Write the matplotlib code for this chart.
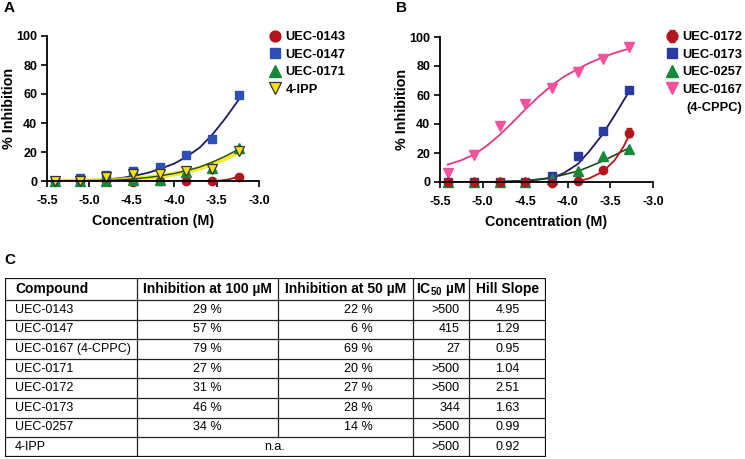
import numpy as np
import matplotlib
matplotlib.use('Agg')
import matplotlib.pyplot as plt

plt.rcParams['font.family'] = ['Liberation Sans', 'DejaVu Sans']
plt.rcParams['mathtext.fontset'] = 'custom'
plt.rcParams['mathtext.bf'] = 'Liberation Sans:bold'
plt.rcParams['mathtext.rm'] = 'Liberation Sans'

# ---- panel A data (log concentration, % inhibition) ----
xA = [-5.41, -5.11, -4.80, -4.49, -4.17, -3.86, -3.56, -3.24]
a_0143 = [0, 0, 0, -0.5, 0, 0, 0, 3]
a_0147 = [0, 1.8, 4, 7, 10, 18, 29, 59]
a_0171 = [0, 0, 0, 1, 1, 6, 9, 23]
a_4ipp = [0, 0, 3, 5, 5, 7, 8.5, 21]

# fitted curves
xA_fit = [-5.41, -5.1, -4.8, -4.6, -4.45, -4.3, -4.17, -4.0, -3.86, -3.7, -3.55, -3.4, -3.24]
a_0147_fit = [0, 0.3, 1, 2.3, 3.8, 5.8, 8.2, 12, 16.5, 23, 32, 43, 56]
a_0171_fit = [0, 0, 0.3, 0.9, 1.6, 2.5, 3.5, 5.2, 7, 9.6, 13, 17, 22]
a_4ipp_fit = [0, 0, 0.3, 0.9, 1.6, 2.4, 3.3, 4.8, 6.4, 8.8, 12, 15.5, 20]
xA_fit143 = [-5.41, -3.6, -3.45, -3.35, -3.24]
a_0143_fit = [0, 0, 0.3, 1.2, 3]

# ---- panel B data ----
xB = [-5.41, -5.10, -4.79, -4.50, -4.19, -3.88, -3.59, -3.28]
b_0172 = [0, 0, 0, 0, -0.5, 1, 8, 34]
b_0172_err = [0, 0, 0, 0, 0, 0, 0, 3]
b_0173 = [0, 0, 0, 0, 4, 18, 35, 63.5]
b_0257 = [0, 0, 0, 0, 2, 7.5, 18, 23]
b_0167 = [6.5, 18.5, 38.5, 54, 65, 76, 85, 93]

xB_fit = [-5.41, -5.25, -5.1, -4.95, -4.79, -4.65, -4.5, -4.35, -4.19, -4.05, -3.88, -3.75, -3.59, -3.45, -3.28]
b_0167_fit = [12, 15, 19, 25, 33, 41, 50, 58.5, 66.5, 72.5, 78, 82, 86, 89, 92]
b_0173_fit = [0, 0, 0, 0, 0.2, 0.5, 1, 1.6, 2.8, 6, 12.5, 21, 33, 46, 62.5]
b_0257_fit = [0, 0, 0, 0, 0.2, 0.5, 1, 1.8, 3, 5, 7.5, 10.5, 14.5, 18.5, 23.5]
xB_fit172 = [-5.41, -4.1, -3.95, -3.88, -3.75, -3.59, -3.45, -3.35, -3.28]
b_0172_fit = [0, 0, 0.2, 0.5, 2.5, 7, 15, 24, 32]

# ---- table ----
col_names = ['Compound', 'Inhibition at 100 µM', 'Inhibition at 50 µM',
             r'IC$\mathbf{_{50}}$ µM', 'Hill Slope']
compounds = ['UEC-0143', 'UEC-0147', 'UEC-0167 (4-CPPC)', 'UEC-0171',
             'UEC-0172', 'UEC-0173', 'UEC-0257', '4-IPP']
inh100 = ['29 %', '57 %', '79 %', '27 %', '31 %', '46 %', '34 %', 'n.a.']
inh50 = ['22 %', '6 %', '69 %', '20 %', '27 %', '28 %', '14 %', None]
ic50 = ['>500', '415', '27', '>500', '>500', '344', '>500', '>500']
hill = ['4.95', '1.29', '0.95', '1.04', '2.51', '1.63', '0.99', '0.92']

RED = '#b3151c'
BLUE = '#2f4fb8'
NAVY = '#1c1c5c'
GREEN = '#17873a'
DGREEN = '#1b4a1b'
YELLOW = '#f2e400'
PINK = '#f2539b'
PINKL = '#e23a85'

W, H = 745, 459
fig = plt.figure(figsize=(W / 100, H / 100), dpi=100)


def px_axes(l, t, r, b):
    return fig.add_axes([l / W, 1 - b / H, (r - l) / W, (b - t) / H])


def style(ax):
    ax.set_xlim(-5.5, -3.0)
    ax.set_ylim(0, 100)
    for s in ['top', 'right']:
        ax.spines[s].set_visible(False)
    for s in ['left', 'bottom']:
        ax.spines[s].set_linewidth(1.3)
    ax.set_xticks([-5.5, -5.0, -4.5, -4.0, -3.5, -3.0])
    ax.set_xticklabels(['-5.5', '-5.0', '-4.5', '-4.0', '-3.5', '-3.0'])
    ax.set_yticks([0, 20, 40, 60, 80, 100])
    ax.tick_params(direction='out', length=4, width=1.2, labelsize=9, pad=3)
    ax.tick_params(axis='x', pad=6)
    for lab in ax.get_xticklabels() + ax.get_yticklabels():
        lab.set_fontweight('bold')
    ax.set_xlabel('Concentration (M)', fontsize=10.3, fontweight='bold', labelpad=5)
    ax.set_ylabel('% Inhibition', fontsize=10.3, fontweight='bold', labelpad=0)


leg_kw = dict(loc='upper left', bbox_transform=fig.transFigure, frameon=False,
              handlelength=0.9, handletextpad=0.35, labelspacing=0.42, borderpad=0,
              markerscale=1.3, prop={'size': 9.3, 'weight': 'bold'})

# panel A
axA = px_axes(47, 36, 259, 181)
style(axA)
axA.plot(xA_fit, a_0147_fit, color=NAVY, lw=1.3)
axA.plot(xA_fit, a_4ipp_fit, color=YELLOW, lw=3.5, alpha=0.8)
axA.plot(xA_fit, a_0171_fit, color=DGREEN, lw=1.0)
axA.plot(xA_fit143, a_0143_fit, color=RED, lw=1.3)
axA.plot(xA, a_0143, 'o', color=RED, ms=6, label='UEC-0143', clip_on=False)
axA.plot(xA, a_0147, 's', color=BLUE, ms=6, label='UEC-0147', clip_on=False)
axA.plot(xA, a_0171, '^', color=GREEN, ms=6.5, label='UEC-0171', clip_on=False)
axA.plot(xA, a_4ipp, 'v', color=YELLOW, mec='#333333', mew=0.9, ms=6.5,
         label='4-IPP', clip_on=False)
axA.legend(bbox_to_anchor=(263 / W, 1 - 25 / H), **leg_kw)

# panel B
axB = px_axes(440, 37, 653, 182)
style(axB)
axB.plot(xB_fit, b_0167_fit, color=PINKL, lw=1.3)
axB.plot(xB_fit, b_0173_fit, color=NAVY, lw=1.3)
axB.plot(xB_fit, b_0257_fit, color=DGREEN, lw=1.2)
axB.plot(xB_fit172, b_0172_fit, color=RED, lw=1.3)
axB.errorbar(xB, b_0172, yerr=b_0172_err, fmt='o', color=RED, ms=6,
             capsize=2.5, elinewidth=1, label='UEC-0172', clip_on=False)
axB.plot(xB, b_0173, 's', color='#2a3aa0', ms=6, label='UEC-0173', clip_on=False)
axB.plot(xB, b_0257, '^', color=GREEN, ms=6.5, label='UEC-0257', clip_on=False)
axB.plot(xB, b_0167, 'v', color=PINK, ms=6.5, label='UEC-0167', clip_on=False)
handles, labels = axB.get_legend_handles_labels()
order = [labels.index(n) for n in ['UEC-0172', 'UEC-0173', 'UEC-0257', 'UEC-0167']]
axB.legend([handles[i] for i in order], [labels[i] for i in order],
           bbox_to_anchor=(660 / W, 1 - 25 / H), **leg_kw)
fig.text(686 / W, 1 - 108 / H, '(4-CPPC)', fontsize=9.3, fontweight='bold',
         va='center', ha='left')

# panel letters
fig.text(4 / W, 1 - 8 / H, 'A', fontsize=11, fontweight='bold', va='center')
fig.text(396 / W, 1 - 8 / H, 'B', fontsize=11, fontweight='bold', va='center')
fig.text(4 / W, 1 - 260 / H, 'C', fontsize=11, fontweight='bold', va='center')

# table
axT = px_axes(5, 278, 546, 457)
axT.set_xlim(0, 541)
axT.set_ylim(179, 0)
axT.axis('off')
col_edges = [0, 132, 273, 408, 464, 541]
row_edges = [0, 22] + [22 + 19.6 * (i + 1) for i in range(8)]
for y in row_edges[1:-1]:
    axT.plot([0, 541], [y, y], color='#222222', lw=0.9)
n_rows = len(row_edges) - 1
for j, x in enumerate(col_edges[1:-1], start=1):
    for r in range(n_rows):
        # last row merges the two inhibition columns
        if j == 2 and r > 0 and inh50[r - 1] is None:
            continue
        axT.plot([x, x], [row_edges[r], row_edges[r + 1]], color='#222222', lw=0.9)
axT.add_patch(plt.Rectangle((0, 0), 541, 179, fill=False, ec='#111111', lw=1.6))

hy = 11
axT.text(10, hy, col_names[0], ha='left', va='center', fontsize=10, fontweight='bold')
for j in range(1, 5):
    axT.text((col_edges[j] + col_edges[j + 1]) / 2, hy, col_names[j], ha='center',
             va='center', fontsize=10, fontweight='bold')

for i in range(len(compounds)):
    y = (row_edges[i + 1] + row_edges[i + 2]) / 2
    axT.text(10, y, compounds[i], ha='left', va='center', fontsize=9)
    if inh50[i] is None:
        axT.text((col_edges[1] + col_edges[3]) / 2, y, inh100[i], ha='center',
                 va='center', fontsize=9)
    else:
        axT.text((col_edges[1] + col_edges[2]) / 2, y, inh100[i], ha='center',
                 va='center', fontsize=9)
        axT.text(col_edges[3] - 40, y, inh50[i], ha='right', va='center', fontsize=9)
    axT.text(col_edges[4] - 9, y, ic50[i], ha='right', va='center', fontsize=9)
    axT.text((col_edges[4] + col_edges[5]) / 2, y, hill[i], ha='center',
             va='center', fontsize=9)

fig.savefig('out.png', dpi=100)
